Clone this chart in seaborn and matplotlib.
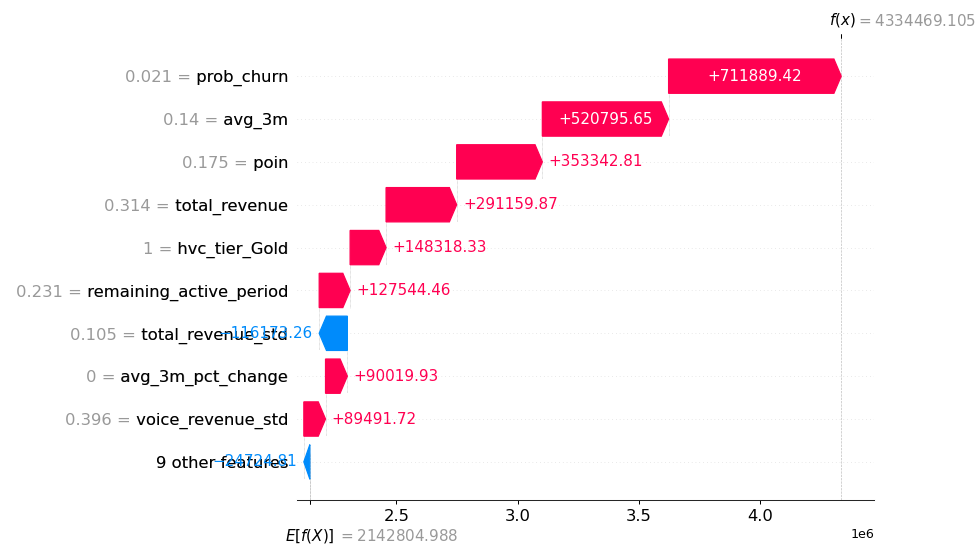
import numpy as np
import matplotlib
matplotlib.use("Agg")
import matplotlib.pyplot as plt
import matplotlib.transforms as mtransforms
import seaborn as sns

# Contributions, listed top row first
features = ["prob_churn", "avg_3m", "poin", "total_revenue", "hvc_tier_Gold",
            "remaining_active_period", "total_revenue_std", "avg_3m_pct_change",
            "voice_revenue_std", "9 other features"]
feature_values = [0.021, 0.14, 0.175, 0.314, 1, 0.231, 0.105, 0, 0.396, None]
contributions = [711889.42, 520795.65, 353342.81, 291159.87, 148318.33,
                 127544.46, -116173.26, 90019.93, 89491.72, -24724.81]
base_value = 2142804.988
model_output = 4334469.105

RED = (1.0, 0.0, 0.31796406)
BLUE = (0.0, 0.54337757, 0.98337906)
GRAY = "#999999"


def fmt(v, spec):
    s = (spec % v).strip()
    if "." in s and "f" in spec and "+" not in spec:
        s = s.rstrip("0").rstrip(".")
    if s.startswith("-"):
        s = "\u2212" + s[1:]
    return s


sns.set_style("ticks", rc={
    "xtick.major.size": 3.5, "ytick.major.size": 3.5,
    "xtick.major.pad": 3.5, "ytick.major.pad": 3.5,
})

DPI = 91
fig = plt.figure(figsize=(979 / DPI, 547 / DPI), dpi=DPI)
ax = fig.add_axes([0.3034, 0.0859, 0.5894, 0.8446])

n = len(features)
xmin, xmax = 2.09e6, 4.47e6
ax.set_xlim(xmin, xmax)
ax.set_ylim(-0.89, n - 1 + 0.89)

bbox = ax.get_window_extent().transformed(fig.dpi_scale_trans.inverted())
x_per_inch = (xmax - xmin) / bbox.width
head_len = 0.08 * x_per_inch
bar_w = 0.8
renderer = fig.canvas.get_renderer()


def px_width(x0, x1):
    a = ax.transData.transform((x0, 0))[0]
    b = ax.transData.transform((x1, 0))[0]
    return abs(b - a)


loc = model_output
yticklabels = [""] * n
for i, (name, fv, sval) in enumerate(zip(features, feature_values, contributions)):
    y = n - 1 - i
    loc -= sval
    yticklabels[y] = name if fv is None else fmt(fv, "%0.03f") + " = " + name
    label = fmt(sval, "%+0.02f")
    if sval >= 0:
        ax.arrow(loc, y, max(sval - head_len, 1e-6), 0, head_length=min(sval, head_len),
                 color=RED, width=bar_w, head_width=bar_w)
        txt = ax.text(loc + 0.5 * sval, y, label, ha="center", va="center",
                      color="white", fontsize=12)
        if txt.get_window_extent(renderer).width > px_width(loc, loc + sval):
            txt.remove()
            ax.text(loc + sval + (5 / 72) * x_per_inch, y, label, ha="left", va="center",
                    color=RED, fontsize=12)
    else:
        dist = sval  # bar runs leftwards from loc
        ax.arrow(loc, y, -max(-dist - head_len, 1e-6), 0, head_length=min(-dist, head_len),
                 color=BLUE, width=bar_w, head_width=bar_w)
        txt = ax.text(loc + 0.5 * dist, y, label, ha="center", va="center",
                      color="white", fontsize=12)
        if txt.get_window_extent(renderer).width > px_width(loc, loc + dist):
            txt.remove()
            ax.text(loc + dist - (5 / 72) * x_per_inch, y, label, ha="right", va="center",
                    color=BLUE, fontsize=12)
    # connector to the next row
    ax.plot([loc, loc], [y + 0.4, y - 1.4], color="#bbbbbb", linestyle="--",
            linewidth=0.5, dashes=(1, 1), zorder=-1)

# feature labels: gray "value = name" with the name redrawn in black on top
ytick_pos = list(range(n)) + list(np.arange(n) + 1e-8)
ax.set_yticks(ytick_pos)
ax.set_yticklabels(yticklabels + [l.split("=")[-1] for l in yticklabels], fontsize=13)
for i, t in enumerate(ax.yaxis.get_majorticklabels()):
    t.set_color(GRAY if i < n else "black")

for i in range(n):
    ax.axhline(i, color="#cccccc", lw=0.5, dashes=(1, 5), zorder=-1)

ax.axvline(base_value, 0, 1 / n, color="#bbbbbb", linestyle="--", linewidth=0.5, zorder=-1)
ax.axvline(model_output, 0, 1, color="#bbbbbb", linestyle="--", linewidth=0.5, zorder=-1)

ax.xaxis.set_ticks_position("bottom")
ax.yaxis.set_ticks_position("none")
sns.despine(ax=ax, left=True)
ax.tick_params(axis="x", labelsize=13, colors="black")
ax.set_ylim(-0.89, n - 1 + 0.89)
ax.set_xlim(xmin, xmax)

# E[f(X)] marker below the axis
ax2 = ax.twiny()
ax2.set_xlim(xmin, xmax)
ax2.set_xticks([base_value, base_value + 1e-8])
ax2.set_xticklabels(["\n$E[f(X)]$", "\n$ = " + fmt(base_value, "%0.03f") + "$"],
                    fontsize=12, ha="left")
for s in ("right", "top", "left"):
    ax2.spines[s].set_visible(False)

# f(x) marker above the axis
ax3 = ax2.twiny()
ax3.set_xlim(xmin, xmax)
ax3.set_xticks([model_output, model_output + 1e-8])
ax3.set_xticklabels(["$f(x)$", "$ = " + fmt(model_output, "%0.03f") + "$"],
                    fontsize=12, ha="left")
for s in ("right", "top", "left"):
    ax3.spines[s].set_visible(False)
ax3.xaxis.set_ticks_position("top")
ax2.xaxis.set_ticks_position("bottom")
ax2.tick_params(colors="black")
ax3.tick_params(colors="black")

tl = ax3.xaxis.get_majorticklabels()
tl[0].set_transform(tl[0].get_transform() + mtransforms.ScaledTranslation(-10 / 72., 0, fig.dpi_scale_trans))
tl[1].set_transform(tl[1].get_transform() + mtransforms.ScaledTranslation(12 / 72., 0, fig.dpi_scale_trans))
tl[1].set_color(GRAY)

tl = ax2.xaxis.get_majorticklabels()
tl[0].set_transform(tl[0].get_transform() + mtransforms.ScaledTranslation(-20 / 72., 0, fig.dpi_scale_trans))
tl[1].set_transform(tl[1].get_transform() + mtransforms.ScaledTranslation(22 / 72., -1 / 72., fig.dpi_scale_trans))
tl[1].set_color(GRAY)

fig.savefig("out.png", dpi=DPI, facecolor="white")
